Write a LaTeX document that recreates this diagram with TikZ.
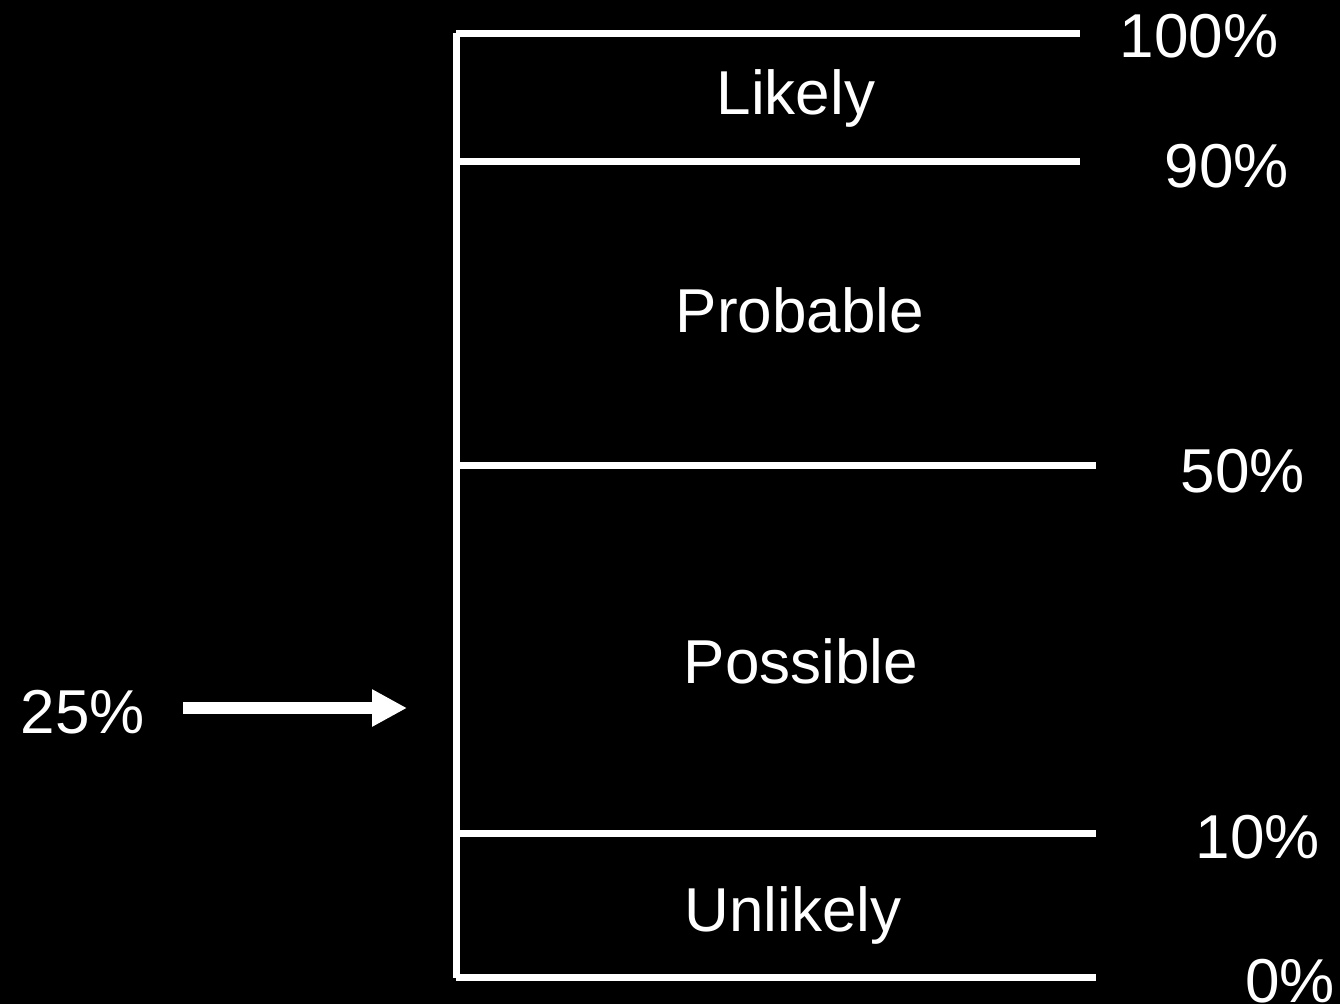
\documentclass[tikz,border=0pt]{standalone}
\usepackage{fontspec}
\setmainfont{Liberation Sans}
\usetikzlibrary{positioning, arrows.meta}

\begin{document}
\begin{tikzpicture}[x = 1pt, y = -1pt]

  \tikzstyle{scaleline}=[draw=white, line width=7pt]
  \tikzstyle{pointer}=[draw=white, line width=12pt, -{Triangle[length=35pt, width=35pt]}]
  \tikzstyle{pctlabel}=[text=white, inner sep=0, anchor=base, font=\fontsize{62}{74}\selectfont]
  \tikzstyle{bandlabel}=[pctlabel]

  \fill [black] (0, 0) rectangle (1340, 1004);
  \useasboundingbox (0, 0) rectangle (1340, 1004);

  \coordinate (axis-top) at (456, 33);
  \coordinate (axis-bot) at (456, 978);

  \coordinate (s100) at (456, 33.5);
  \coordinate (e100) at (1080, 33.5);
  \coordinate (s90) at (456, 161.5);
  \coordinate (e90) at (1080, 161.5);
  \coordinate (s50) at (456, 465);
  \coordinate (e50) at (1096, 465);
  \coordinate (s10) at (456, 833.5);
  \coordinate (e10) at (1096, 833.5);
  \coordinate (s0) at (456, 977.5);
  \coordinate (e0) at (1096, 977.5);

  \node [pctlabel] (p100) at (1199, 57) {100\%};
  \node [pctlabel] (p90) at (1227, 187) {90\%};
  \node [pctlabel] (p50) at (1243, 492) {50\%};
  \node [pctlabel] (p10) at (1258, 858) {10\%};
  \node [pctlabel] (p0) at (1290, 1002) {0\%};

  \node [bandlabel] (likely) at (796, 114) {Likely};
  \node [bandlabel] (probable) at (800, 332) {Probable};
  \node [bandlabel] (possible) at (801, 683) {Possible};
  \node [bandlabel] (unlikely) at (793, 931) {Unlikely};

  \node [pctlabel] (p25) at (83, 733) {25\%};
  \coordinate (arrow-start) at (183, 708);
  \coordinate (arrow-end) at (407, 708);

  \draw [scaleline] (axis-top) -- (axis-bot);
  \draw [scaleline] (s100) -- (e100);
  \draw [scaleline] (s90) -- (e90);
  \draw [scaleline] (s50) -- (e50);
  \draw [scaleline] (s10) -- (e10);
  \draw [scaleline] (s0) -- (e0);

  \draw [pointer] (arrow-start) -- (arrow-end);
\end{tikzpicture}
\end{document}
